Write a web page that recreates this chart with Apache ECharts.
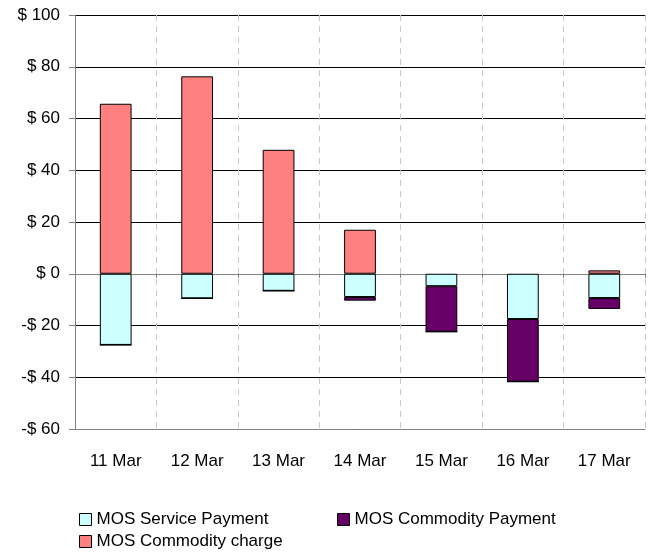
<!DOCTYPE html>
<html lang="en">
<head>
    <meta charset="UTF-8">
    <title>MOS payments</title>
    <script src="https://cdn.jsdelivr.net/npm/echarts@6/dist/echarts.min.js"></script>
    <style>
        body { margin: 0; background: #fff; }
        #main { width: 652px; height: 556px; }
    </style>
</head>
<body>
<div id="main"></div>
<script>
    // data
    var days = ['11 Mar', '12 Mar', '13 Mar', '14 Mar', '15 Mar', '16 Mar', '17 Mar'];
    var servicePayment = [-27.5, -9.5, -6.6, -9.0, -4.8, -17.5, -9.4];
    var commodityPayment = [0, 0, 0, -1.4, -17.6, -24.2, -4.2];
    var commodityCharge = [65.7, 76.3, 47.9, 17.0, 0, 0, 1.3];

    var myChart = echarts.init(document.getElementById('main'));

    var font = 'Liberation Sans, Arial, sans-serif';
    var barBorder = {borderColor: '#000', borderWidth: 1};

    // one legend box per entry, placed like the original two-column layout
    function legendAt(name, x, y) {
        return {
            left: x, top: y, padding: 0,
            itemWidth: 12, itemHeight: 12,
            icon: 'rect',
            itemStyle: {borderColor: '#000', borderWidth: 1},
            textStyle: {fontFamily: font, fontSize: 17, color: '#000'},
            data: [name]
        };
    }

    var option = {
        animation: false,
        grid: {left: 75, right: 7, top: 15, bottom: 127},
        legend: [
            legendAt('MOS Service Payment', 79, 511),
            legendAt('MOS Commodity Payment', 337, 511),
            legendAt('MOS Commodity charge', 79, 533)
        ],
        xAxis: [{
            type: 'category',
            data: days,
            position: 'bottom',
            axisLine: {onZero: false, lineStyle: {color: '#808080'}},
            axisTick: {show: false},
            axisLabel: {fontFamily: font, fontSize: 17, color: '#000', margin: 24},
            splitLine: {show: true, lineStyle: {color: '#c8c8c8', type: [6, 5]}}
        }, {
            type: 'category',
            data: days,
            position: 'bottom',
            axisLine: {onZero: true, lineStyle: {color: '#808080'}},
            axisTick: {show: true, length: 4, lineStyle: {color: '#808080'}},
            axisLabel: {show: false}
        }],
        yAxis: {
            type: 'value',
            min: -60, max: 100, interval: 20,
            axisLine: {show: true, lineStyle: {color: '#808080'}},
            axisTick: {show: true, length: 6, lineStyle: {color: '#808080'}},
            axisLabel: {
                fontFamily: font, fontSize: 17, color: '#000', margin: 15,
                formatter: function (v) { return v < 0 ? '-$ ' + (-v) : '$ ' + v; }
            },
            splitLine: {lineStyle: {color: '#000'}}
        },
        series: [{
            name: 'MOS Service Payment',
            type: 'bar', stack: 'a', barWidth: '39%',
            itemStyle: Object.assign({color: '#ccffff'}, barBorder),
            data: servicePayment
        }, {
            name: 'MOS Commodity Payment',
            type: 'bar', stack: 'a',
            itemStyle: Object.assign({color: '#660066'}, barBorder),
            data: commodityPayment
        }, {
            name: 'MOS Commodity charge',
            type: 'bar', stack: 'a',
            itemStyle: Object.assign({color: '#ff8080'}, barBorder),
            data: commodityCharge
        }]
    };

    myChart.setOption(option);
</script>
</body>
</html>
